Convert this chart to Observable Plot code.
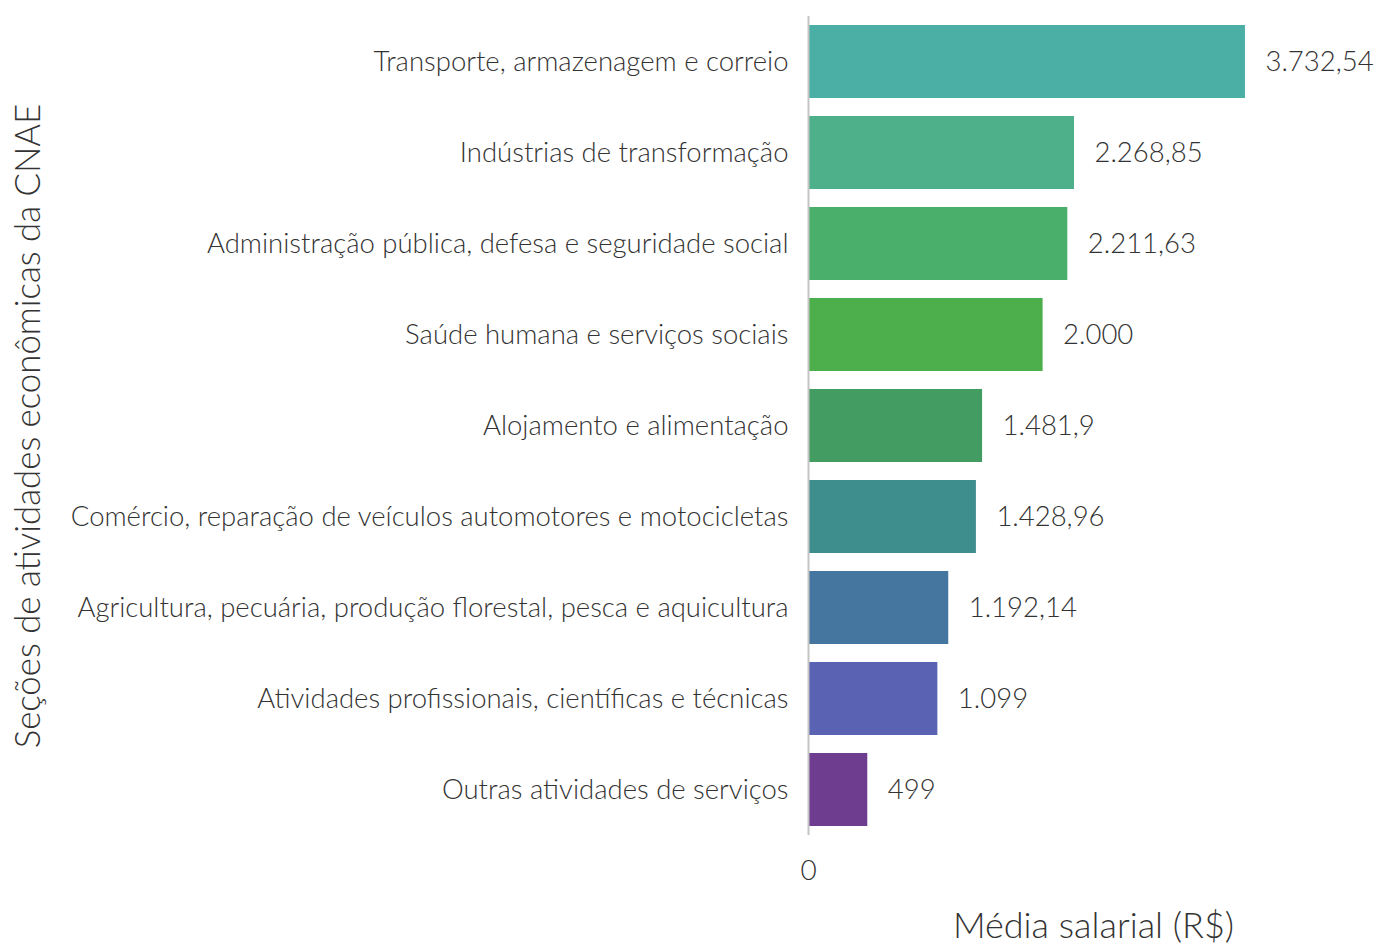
<!DOCTYPE html>
<html>
<head>
<meta charset="utf-8">
<script src="https://cdn.jsdelivr.net/npm/d3@7"></script>
<script src="https://cdn.jsdelivr.net/npm/@observablehq/plot@0.6"></script>
<style>
  html, body { margin: 0; padding: 0; background: #fff; }
  svg { display: block; }
</style>
</head>
<body>
<div id="chart"></div>
<script>
const categories = [
  "Transporte, armazenagem e correio",
  "Indústrias de transformação",
  "Administração pública, defesa e seguridade social",
  "Saúde humana e serviços sociais",
  "Alojamento e alimentação",
  "Comércio, reparação de veículos automotores e motocicletas",
  "Agricultura, pecuária, produção florestal, pesca e aquicultura",
  "Atividades profissionais, científicas e técnicas",
  "Outras atividades de serviços"
];
const values = [3732.54, 2268.85, 2211.63, 2000, 1481.9, 1428.96, 1192.14, 1099, 499];
const colors = ["#4BAFA6", "#4DB08A", "#4BAF6C", "#4CAF4C", "#439C61", "#3F8E8E", "#44769F", "#5A62B4", "#6E3D8F"];
const xTicks = [0];
const xLabel = "Média salarial (R$)";
const yLabel = "Seções de atividades econômicas da CNAE";

const data = categories.map((c, i) => ({cat: c, value: values[i], color: colors[i]}));
const br = d3.formatLocale({decimal: ",", thousands: ".", grouping: [3], currency: ["R$", ""]});
const fmt = br.format(",");

const font = "Lato, 'Open Sans', sans-serif";
const textColor = "#333";

const chart = Plot.plot({
  width: 1377,
  height: 945,
  marginLeft: 809,
  marginRight: 0,
  marginTop: 16,
  marginBottom: 110,
  style: {fontFamily: font, fontWeight: 300, color: textColor, background: "#fff"},
  x: {domain: [0, 4863], axis: null},
  y: {domain: categories, paddingInner: 0.2, paddingOuter: 0.1, axis: null},
  color: {type: "identity"},
  marks: [
    Plot.barX(data, {x: "value", y: "cat", fill: "color"}),
    Plot.ruleX([0], {stroke: "#c4c4c4", strokeWidth: 2, dx: -1}),
    Plot.axisY({tickSize: 0, tickPadding: 21, fontSize: 27.5, fontWeight: 300, label: null, fill: textColor}),
    Plot.axisX({ticks: xTicks, tickSize: 0, tickPadding: 25, fontSize: 28, label: null, fill: textColor, dx: -1, tickFormat: d => fmt(d)}),
    Plot.text(data, {x: "value", y: "cat", text: d => fmt(d.value), textAnchor: "start", dx: 20, fontSize: 27.5, fill: textColor}),
    Plot.text([xLabel], {frameAnchor: "bottom", textAnchor: "middle", dy: 102, fontSize: 36, fill: textColor}),
    Plot.text([yLabel], {frameAnchor: "left", textAnchor: "middle", rotate: -90, dx: -781, fontSize: 34.8, fill: textColor})
  ]
});
document.getElementById("chart").appendChild(chart);
</script>
</body>
</html>
